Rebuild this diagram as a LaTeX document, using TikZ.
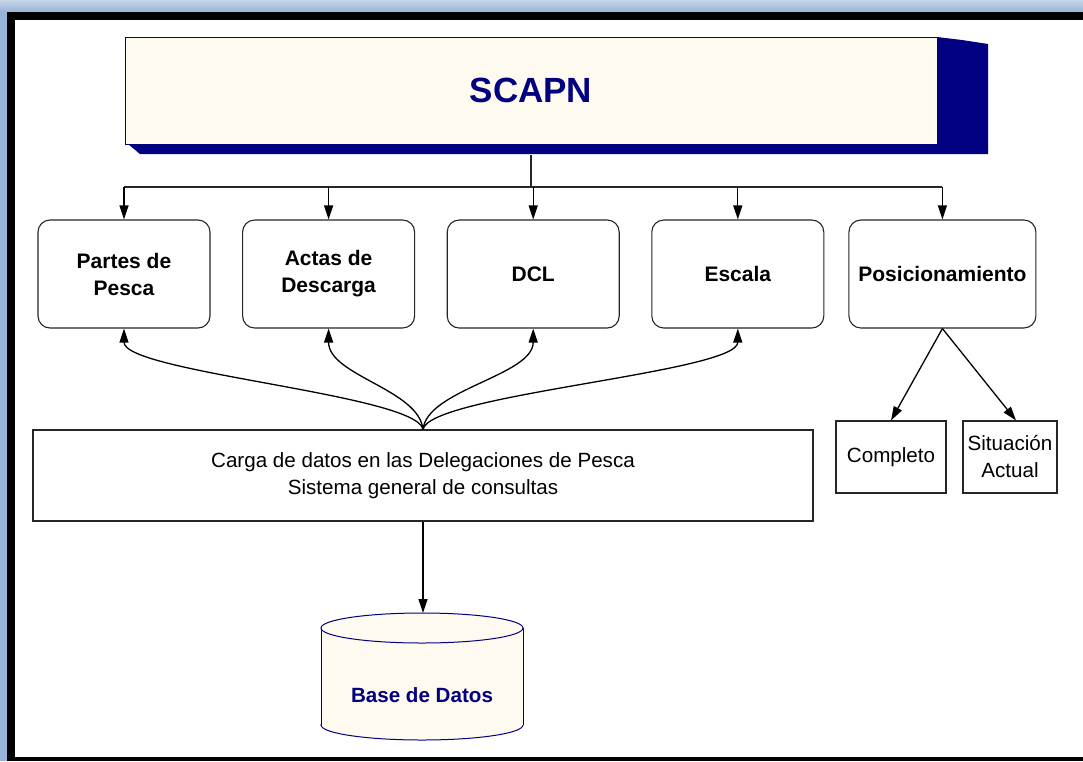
\documentclass[tikz,border=0pt]{standalone}
\usepackage{fontspec}
\setmainfont{Liberation Sans}
\usepackage{xcolor}
\definecolor{navy}{HTML}{000080}
\definecolor{cream}{HTML}{FFFAF0}
\definecolor{frameblue}{HTML}{98B4D8}
\usepackage{tikz}
\usetikzlibrary{arrows.meta, positioning, calc}

\begin{document}
\begin{tikzpicture}[x=1pt, y=-1pt,
    node distance=31.5pt and 31.5pt,
    title/.style={draw=navy, fill=cream, line width=1pt, minimum width=812pt, minimum height=107pt, font=\fontsize{35}{40}\selectfont\bfseries, text=navy},
    modbox/.style={draw=black!85, rounded corners=12pt, align=center, font=\fontsize{21}{27}\selectfont\bfseries, minimum width=172pt, minimum height=108pt, inner sep=2pt, line width=1.1pt},
    widebox/.style={draw=black!85, align=center, font=\fontsize{20.6}{27}\selectfont, minimum width=780pt, minimum height=91pt, line width=1.1pt},
    subbox/.style={draw=black!85, align=center, font=\fontsize{20.6}{27}\selectfont, minimum height=72pt, inner sep=2pt, line width=1.1pt},
    arrow/.style={-{Triangle[length=14pt,width=9pt]}, line width=1.3pt, color=black},
    link/.style={line width=1.3pt, color=black!85}
]

% Frame
\useasboundingbox (0,0) rectangle (1083,761);
\fill[frameblue] (0,0) rectangle (1083,761);
\shade[top color=frameblue!55!white, bottom color=frameblue] (0,0) rectangle (1083,12);
\fill[black] (7,12) rectangle (1083,761);
\fill[white] (15,20) rectangle (1083,757);

% Title with shadow
\fill[navy] (937,37) -- (962,40) -- (988,44) -- (988,154) -- (140,154) -- (128,144) -- (937,144) -- cycle;
\node[title] (scapn) at (531,90.5) {SCAPN};

% Modules
\node[modbox] (partes) at (124,274) {Partes de\\Pesca};
\node[modbox, right=of partes] (actas) {Actas de\\Descarga};
\node[modbox, right=of actas] (dcl) {DCL};
\node[modbox, right=of dcl] (escala) {Escala};
\node[modbox, right=24pt of escala, minimum width=187pt] (pos) {Posicionamiento};

% Sub-options
\node[subbox, minimum width=110pt] (completo) at (891,457) {Completo};
\node[subbox, minimum width=94pt] (sit) at (1010,457) {Situación\\Actual};

% Data load and database
\node[widebox] (carga) at (423,475.5) {Carga de datos en las Delegaciones de Pesca\\Sistema general de consultas};
\fill[cream, draw=navy, line width=1pt] (422,725) ellipse[x radius=101, y radius=15];
\fill[cream] (321,628) rectangle (523,725);
\draw[navy, line width=1pt] (321,628) -- (321,725) (523,628) -- (523,725);
\fill[cream, draw=navy, line width=1pt] (422,628) ellipse[x radius=101, y radius=15];
\coordinate (bdtop) at (423,613);
\node[font=\fontsize{20.6}{24}\selectfont\bfseries, text=navy] (bd) at (422,695) {Base de Datos};

% Connectors
\coordinate (bus) at (531,187);
\draw[link] ([yshift=-10pt]scapn.south) -- (bus);
\draw[link] (partes.north |- bus) -- (pos.north |- bus);
\foreach \n in {partes,actas,dcl,escala,pos}
    \draw[arrow] (\n.north |- bus) -- (\n.north);
\draw[arrow] (carga.north) .. controls +(-6,-35) and +(0,44) .. (partes.south);
\draw[arrow] (carga.north) .. controls +(-4,-40) and +(0,47) .. (actas.south);
\draw[arrow] (carga.north) .. controls +(4,-40) and +(0,47) .. (dcl.south);
\draw[arrow] (carga.north) .. controls +(6,-35) and +(0,44) .. (escala.south);
\draw[arrow] (pos.south) -- (completo.north);
\draw[arrow] (pos.south) -- ([xshift=6pt]sit.north);
\draw[arrow] (carga.south) -- (bdtop);

\end{tikzpicture}
\end{document}
